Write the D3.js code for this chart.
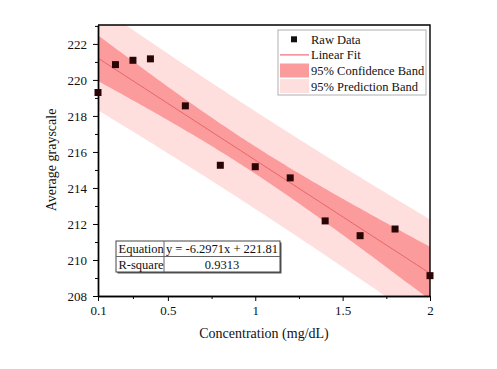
<!DOCTYPE html>
<html>
<head>
<meta charset="utf-8">
<script src="https://cdn.jsdelivr.net/npm/d3@7"></script>
<style>
  body { margin: 0; background: #fff; }
  svg text { font-family: "Times New Roman", "Liberation Serif", Times, serif; fill: #111; }
</style>
</head>
<body>
<svg id="chart" width="497" height="369"></svg>
<script>
// concentration (mg/dL) and measured average grayscale
let concentration = [0.1, 0.2, 0.3, 0.4, 0.6, 0.8, 1.0, 1.2, 1.4, 1.6, 1.8, 2.0];
let grayscale = [219.3, 220.85, 221.09, 221.17, 218.56, 215.26, 215.18, 214.56, 212.17, 211.35, 211.72, 209.13];

let xTicks = [0.1, 0.5, 1, 1.5, 2];
let xMinor = [0.3, 0.75, 1.25, 1.75];
let yTicks = [208, 210, 212, 214, 216, 218, 220, 222];
let yMinor = [209, 211, 213, 215, 217, 219, 221, 223];

let legendLabels = ["Raw Data", "Linear Fit", "95% Confidence Band", "95% Prediction Band"];
let tableRows = [["Equation", "y = -6.2971x + 221.81"], ["R-square", "0.9313"]];

let svg = d3.select("#chart");
let m = {left: 98, right: 430, top: 25, bottom: 296};
const serif = "'Times New Roman', 'Liberation Serif', Times, serif";

let x = d3.scaleLinear().domain([0.1, 2]).range([m.left, m.right]);
let y = d3.scaleLinear().domain([208, 223.05]).range([m.bottom, m.top]);

// least squares fit + bands
let n = concentration.length;
let mx = d3.mean(concentration), my = d3.mean(grayscale);
let sxx = d3.sum(concentration, v => (v - mx) * (v - mx));
let sxy = d3.sum(concentration, (v, i) => (v - mx) * (grayscale[i] - my));
let slope = sxy / sxx, icpt = my - slope * mx;
let ssr = d3.sum(concentration, (v, i) => Math.pow(grayscale[i] - (icpt + slope * v), 2));
let s = Math.sqrt(ssr / (n - 2));
let t = 2.228; // t(0.975, 10)

let xs = d3.range(0, 101).map(i => 0.1 + i * 1.9 / 100);
let band = (xv, pred) => t * s * Math.sqrt((pred ? 1 : 0) + 1 / n + (xv - mx) * (xv - mx) / sxx);

svg.append("clipPath").attr("id", "clip")
    .append("rect").attr("x", m.left).attr("y", m.top)
    .attr("width", m.right - m.left).attr("height", m.bottom - m.top);

let plot = svg.append("g").attr("clip-path", "url(#clip)");

let area = pred => d3.area()
    .x(d => x(d))
    .y0(d => y(icpt + slope * d - band(d, pred)))
    .y1(d => y(icpt + slope * d + band(d, pred)));

plot.append("path").datum(xs).attr("d", area(true)).attr("fill", "#ffdede");
plot.append("path").datum(xs).attr("d", area(false)).attr("fill", "#fc9b9b");
plot.append("path").datum(xs)
    .attr("d", d3.line().x(d => x(d)).y(d => y(icpt + slope * d)))
    .attr("fill", "none").attr("stroke", "#e0585c").attr("stroke-width", 0.8);

// axes
let xAxis = svg.append("g").attr("transform", "translate(0," + m.bottom + ")")
    .call(d3.axisBottom(x).tickValues(xTicks).tickFormat(d3.format("")).tickSize(5).tickSizeOuter(0));
svg.append("g").attr("transform", "translate(0," + m.bottom + ")")
    .call(d3.axisBottom(x).tickValues(xMinor).tickFormat("").tickSize(3).tickSizeOuter(0));
let yAxis = svg.append("g").attr("transform", "translate(" + m.left + ",0)")
    .call(d3.axisLeft(y).tickValues(yTicks).tickSize(5).tickSizeOuter(0));
svg.append("g").attr("transform", "translate(" + m.left + ",0)")
    .call(d3.axisLeft(y).tickValues(yMinor).tickFormat("").tickSize(3).tickSizeOuter(0));

svg.selectAll(".domain").attr("stroke", "#000").attr("stroke-width", 1.4);
svg.selectAll(".tick line").attr("stroke", "#000").attr("stroke-width", 1);
svg.selectAll("g").attr("font-family", serif);
svg.selectAll(".tick text").style("font-size", "13px").attr("fill", "#222");
xAxis.selectAll(".tick text").attr("dy", "0.9em").attr("y", 7);
yAxis.selectAll(".tick text").attr("x", -11);

// frame top/right
svg.append("path")
    .attr("d", "M" + m.left + "," + m.top + "H" + m.right + "V" + m.bottom)
    .attr("fill", "none").attr("stroke", "#000").attr("stroke-width", 1.4);

// raw data points
svg.append("g").selectAll("rect").data(concentration).enter().append("rect")
    .attr("x", (d) => x(d) - 3.5)
    .attr("y", (d, i) => y(grayscale[i]) - 3.5)
    .attr("width", 7).attr("height", 7)
    .attr("fill", "#2a0506");

// axis titles
svg.append("text").attr("x", 264).attr("y", 338).attr("text-anchor", "middle")
    .style("font-size", "14px").text("Concentration (mg/dL)");
svg.append("text").attr("transform", "translate(56,160) rotate(-90)").attr("text-anchor", "middle")
    .style("font-size", "14px").text("Average grayscale");

// legend
let lg = svg.append("g").attr("transform", "translate(278,30)");
lg.append("rect").attr("width", 148).attr("height", 65).attr("fill", "#fff").attr("stroke", "#b0b0b0");
let rowH = 15.6, r0 = 9.3;
lg.append("rect").attr("x", 13).attr("y", r0 - 3).attr("width", 6).attr("height", 6).attr("fill", "#111");
lg.append("line").attr("x1", 2).attr("x2", 31).attr("y1", r0 + rowH).attr("y2", r0 + rowH)
    .attr("stroke", "#f06a78").attr("stroke-width", 1.2);
lg.append("rect").attr("x", 2).attr("y", r0 + 2 * rowH - 7).attr("width", 29).attr("height", 14).attr("fill", "#fc9b9b");
lg.append("rect").attr("x", 2).attr("y", r0 + 3 * rowH - 7).attr("width", 29).attr("height", 14).attr("fill", "#ffdede");
lg.selectAll("text.lab").data(legendLabels).enter().append("text")
    .attr("class", "lab")
    .attr("x", 33).attr("y", (d, i) => r0 + i * rowH + 4.5)
    .style("font-size", "12.5px").text(d => d);

// equation table
let tb = svg.append("g").attr("transform", "translate(116,241)");
let c1 = 48, c2 = 116, rh = 15.5;
tb.append("rect").attr("x", 1.5).attr("y", 1.5).attr("width", c1 + c2).attr("height", 2 * rh).attr("fill", "#555");
tb.append("rect").attr("width", c1 + c2).attr("height", 2 * rh).attr("fill", "#fff").attr("stroke", "#444");
tb.append("line").attr("x1", c1).attr("x2", c1).attr("y1", 0).attr("y2", 2 * rh).attr("stroke", "#666");
tb.append("line").attr("x1", 0).attr("x2", c1 + c2).attr("y1", rh).attr("y2", rh).attr("stroke", "#666");
tableRows.forEach((r, i) => {
    tb.append("text").attr("x", 2.5).attr("y", i * rh + 12).style("font-size", "12.5px").text(r[0]);
    tb.append("text").attr("x", c1 + c2 / 2).attr("y", i * rh + 12).attr("text-anchor", "middle")
        .style("font-size", "12.5px").text(r[1]);
});
svg.selectAll("text").style("font-family", serif);
</script>
</body>
</html>
